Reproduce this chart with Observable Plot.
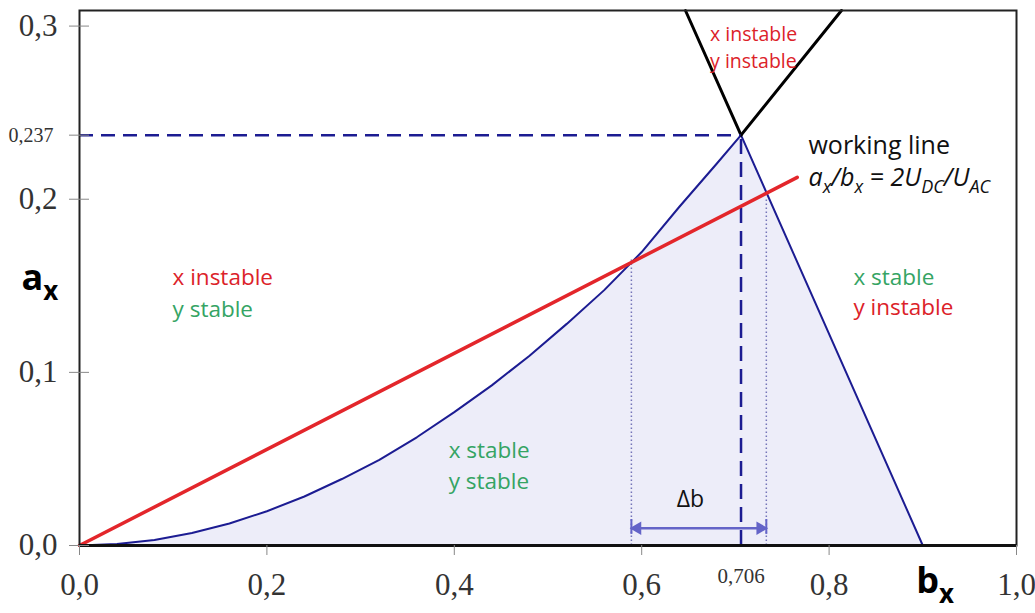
<!DOCTYPE html>
<html><head><meta charset="utf-8">
<script src="https://cdn.jsdelivr.net/npm/d3@7"></script>
<script src="https://cdn.jsdelivr.net/npm/@observablehq/plot@0.6"></script>
<style>body{margin:0;background:#fff}</style>
</head><body><div id="chart"></div>
<script>
// ---- data ----
// stability boundary (lower curve from origin to the tip, then straight right edge)
const boundaryB = [0, 0.04, 0.08, 0.12, 0.16, 0.20, 0.24, 0.28, 0.32, 0.36, 0.40, 0.44, 0.48, 0.52, 0.56, 0.60, 0.64, 0.68, 0.706, 0.90];
const boundaryA = [0, 0.0008, 0.0032, 0.0072, 0.0127, 0.0198, 0.0283, 0.0384, 0.0495, 0.0625, 0.0770, 0.0925, 0.1095, 0.1280, 0.1475, 0.1695, 0.1955, 0.2205, 0.237, 0];
// black boundary lines above the tip
const blackLeftB = [0.6467, 0.706];
const blackLeftA = [0.309, 0.237];
const blackRightB = [0.706, 0.8132];
const blackRightA = [0.237, 0.309];
// working line
const workB = [0, 0.766];
const workA = [0, 0.2126];
// tip of the stability region
const tipB = 0.706;
const tipA = 0.237;
// intersections of working line with boundary (Δb)
const deltaB = [0.589, 0.733];
const deltaTopA = [0.166, 0.201];
const arrowA = 0.010;
const barA = [0.0064, 0.015];
// ticks
const yTicks = [0, 0.1, 0.2, 0.3];
const xTicks = [0, 0.2, 0.4, 0.6, 0.8, 1.0];
const specialYTick = [0.237];
const specialXTick = [0.706];
// region labels
const regionText = ["x instable", "y stable", "x stable", "y stable", "x stable", "y instable"];
const regionB = [0.0993, 0.0993, 0.394, 0.394, 0.826, 0.826];
const regionA = [0.1548, 0.1363, 0.0549, 0.0370, 0.1548, 0.1375];
const topText = ["x instable", "y instable"];
const topB = [0.673, 0.673];
const topA = [0.295, 0.2796];
const workText = ["working line", "a_{x}/b_{x} = 2U_{DC}/U_{AC}"];
const workTextB = [0.778, 0.778];
const workTextA = [0.2305, 0.2124];

const RED = "#dc2229", GREEN = "#35a464", NAVY = "#1c1c92";
const colorOf = t => t.includes("instable") ? RED : GREEN;

const boundary = boundaryB.map((b, i) => ({b, a: boundaryA[i]}));
const toPts = (B, A) => B.map((b, i) => ({b, a: A[i]}));
const region = regionText.map((t, i) => ({t, b: regionB[i], a: regionA[i]}));
const tops = topText.map((t, i) => ({t, b: topB[i], a: topA[i]}));
const works = workText.map((t, i) => ({t, b: workTextB[i], a: workTextA[i]}));
const deltas = deltaB.map((b, i) => ({b, top: deltaTopA[i]}));
const comma = d => d3.format(".1f")(d).replace(".", ",");
const comma3 = d => d3.format(".3f")(d).replace(".", ",");

const chart = Plot.plot({
  width: 1035, height: 613,
  marginLeft: 79, marginRight: 19, marginTop: 10, marginBottom: 68,
  x: {domain: [0, 1], axis: null, label: null},
  y: {domain: [0, 0.309], axis: null, label: null},
  style: {fontFamily: "Liberation Serif", background: "white", overflow: "visible"},
  marks: [
    Plot.areaY(boundary, {x: "b", y: "a", fill: "#ededf9"}),
    Plot.line(boundary, {x: "b", y: "a", stroke: NAVY, strokeWidth: 2}),
    Plot.line(toPts(blackLeftB, blackLeftA), {x: "b", y: "a", stroke: "#000", strokeWidth: 3}),
    Plot.line(toPts(blackRightB, blackRightA), {x: "b", y: "a", stroke: "#000", strokeWidth: 3}),
    Plot.ruleY([tipA], {x1: 0, x2: tipB, stroke: NAVY, strokeWidth: 2.5, strokeDasharray: "14,8"}),
    Plot.ruleX([tipB], {y1: 0, y2: tipA, stroke: NAVY, strokeWidth: 2.5, strokeDasharray: "15,8"}),
    Plot.ruleX(deltas, {x: "b", y1: 0, y2: "top", stroke: "#7474b8", strokeWidth: 1.5, strokeDasharray: "1.5,2.5"}),
    Plot.line(toPts(workB, workA), {x: "b", y: "a", stroke: "#e3262b", strokeWidth: 3.5}),
    // Δb arrow
    Plot.ruleY([arrowA], {x1: deltaB[0], x2: deltaB[1], stroke: "#6464c8", strokeWidth: 2.5}),
    Plot.ruleX(deltaB, {y1: barA[0], y2: barA[1], stroke: "#6464c8", strokeWidth: 2}),
    Plot.dot([deltaB[0]], {x: d => d, y: () => arrowA, symbol: "triangle", rotate: -90, r: 5, fill: "#6464c8", stroke: null, dx: 6}),
    Plot.dot([deltaB[1]], {x: d => d, y: () => arrowA, symbol: "triangle", rotate: 90, r: 5, fill: "#6464c8", stroke: null, dx: -6}),
    Plot.text(["Δb"], {x: () => (deltaB[0] + deltaB[1]) / 2 - 0.009, y: () => 0.0266, text: d => d, fontFamily: "Open Sans", fontSize: 23, fill: "#111"}),
    // frame & axes
    Plot.frame({stroke: "#222", strokeWidth: 2}),
    Plot.ruleY([0], {stroke: "#111", strokeWidth: 3}),
    Plot.axisY(yTicks, {label: null, tickSize: 20, dx: 10, tickPadding: 12, tickFormat: comma, fontSize: 31, stroke: "#888", fill: "#333", fontFamily: "Liberation Serif", ariaLabel: "yt"}),
    Plot.axisY(specialYTick, {label: null, tickSize: 20, dx: 10, tickPadding: 16, tickFormat: comma3, fontSize: 20, stroke: "#888", fill: "#333", fontFamily: "Liberation Serif", ariaLabel: "yt"}),
    Plot.axisX(xTicks, {label: null, tickSize: 10, tickPadding: 17, tickFormat: comma, fontSize: 31, stroke: "#888", fill: "#333", fontFamily: "Liberation Serif", ariaLabel: "xt"}),
    Plot.axisX(specialXTick, {label: null, tickSize: 0, tickPadding: 23, tickFormat: comma3, fontSize: 21, stroke: "#888", fill: "#333", fontFamily: "Liberation Serif", ariaLabel: "xt"}),
    // labels
    Plot.text(region, {x: "b", y: "a", text: "t", fill: d => colorOf(d.t), textAnchor: "start", fontFamily: "Open Sans", fontSize: 22.5}),
    Plot.text(tops, {x: "b", y: "a", text: "t", fill: d => colorOf(d.t), textAnchor: "start", fontFamily: "Open Sans", fontSize: 19.5}),
    Plot.text(works.slice(0, 1), {x: "b", y: "a", text: "t", fill: "#111", textAnchor: "start", fontFamily: "Open Sans", fontSize: 25}),
    Plot.text(works.slice(1), {x: "b", y: "a", text: "t", fill: "#111", textAnchor: "start", fontFamily: "Open Sans", fontStyle: "italic", fontSize: 25}),
    Plot.text(["a_{x}"], {x: () => -0.0619, y: () => 0.1540, text: d => d, textAnchor: "start", fontFamily: "Open Sans", fontWeight: "bold", fontSize: 36, fill: "#000"}),
    Plot.text(["b_{x}"], {x: () => 0.893, y: () => -0.0205, text: d => d, textAnchor: "start", fontFamily: "Open Sans", fontWeight: "bold", fontSize: 36, fill: "#000"})
  ]
});

document.getElementById("chart").appendChild(chart);

// condense serif tick labels
d3.select(chart).selectAll('g[aria-label="yt"] text, g[aria-label="xt"] text').each(function () {
  const t = this.getAttribute("transform");
  if (t) {
    if (!t.includes("scale")) this.setAttribute("transform", t + " scale(0.78,1)");
  } else {
    const x = this.getAttribute("x") || 0, y = this.getAttribute("y") || 0;
    this.removeAttribute("x"); this.removeAttribute("y");
    this.setAttribute("transform", `translate(${x},${y}) scale(0.78,1)`);
  }
});

// subscripts
d3.select(chart).selectAll("text").each(function () {
  const s = this.textContent;
  if (!s.includes("_{")) return;
  const fs = parseFloat(getComputedStyle(this).fontSize);
  const sub = fs * 0.72, shift = fs * 0.28;
  this.textContent = "";
  const re = /_\{([^}]*)\}/g;
  let last = 0, m, lowered = false;
  const add = (txt, isSub) => {
    if (!txt) return;
    const ts = document.createElementNS("http://www.w3.org/2000/svg", "tspan");
    ts.textContent = txt;
    if (isSub && !lowered) { ts.setAttribute("dy", shift); lowered = true; }
    if (!isSub && lowered) { ts.setAttribute("dy", -shift); lowered = false; }
    if (isSub) ts.setAttribute("font-size", sub);
    this.appendChild(ts);
  };
  while ((m = re.exec(s))) {
    add(s.slice(last, m.index), false);
    add(m[1], true);
    last = m.index + m[0].length;
  }
  add(s.slice(last), false);
});
</script>
</body></html>
